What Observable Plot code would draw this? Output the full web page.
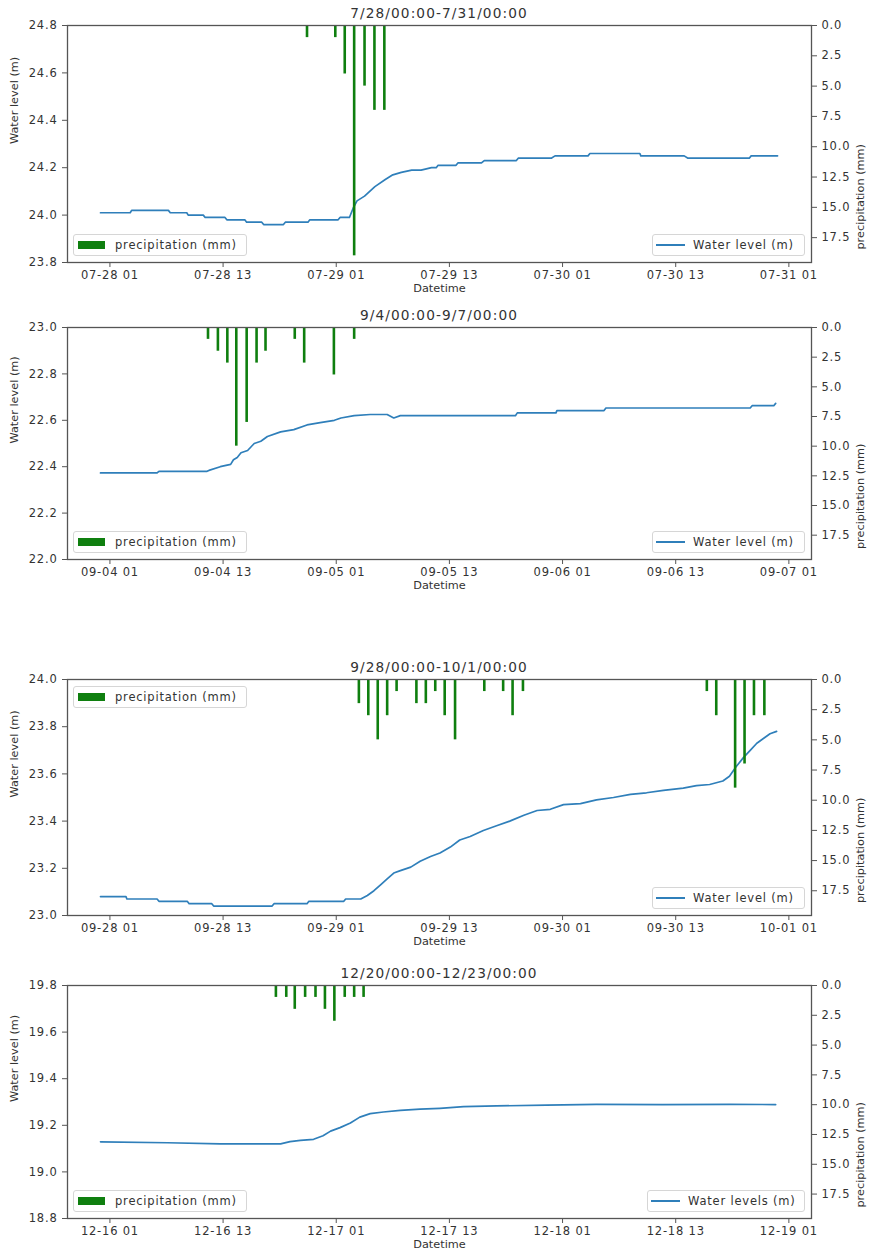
<!DOCTYPE html>
<html><head><meta charset="utf-8">
<script src="https://cdn.jsdelivr.net/npm/d3@7"></script>
<script src="https://cdn.jsdelivr.net/npm/@observablehq/plot@0.6"></script>
<style>
body{margin:0;background:#fff;font-family:"DejaVu Sans",sans-serif;}
#root{position:relative;width:871px;height:1258px;overflow:hidden;background:#fff;}
.panel{position:absolute;left:0;}
.panel svg{overflow:visible;}
g[aria-label$="tick label"] text{letter-spacing:0.8px;}
.title{position:absolute;left:0;width:878px;text-align:center;font-size:13.7px;letter-spacing:1.1px;color:#333;line-height:16px;}
.legend{position:absolute;background:#fff;border:1px solid #d6d6d6;border-radius:3px;box-sizing:border-box;height:22px;font-size:11.5px;letter-spacing:0.8px;color:#333;display:flex;align-items:center;white-space:nowrap;}
.patch{display:inline-block;width:27px;height:8px;background:#0f7f0f;margin-left:4px;margin-right:10px;}
.wline{display:inline-block;width:29px;height:2px;background:#2f7fba;margin-left:3px;margin-right:8px;}
</style>
</head><body><div id="root"></div>
<script>
const YEAR = 2019;
const rainTicks = [0, 2.5, 5, 7.5, 10, 12.5, 15, 17.5];
const RAIN_MAX = 19.55;

// ---------- Panel 1 ----------
const p1Title = "7/28/00:00-7/31/00:00";
const p1Start = "07-28 00";
const p1Ticks = ["07-28 01","07-28 13","07-29 01","07-29 13","07-30 01","07-30 13","07-31 01"];
const p1LevelTicks = [23.8, 24.0, 24.2, 24.4, 24.6, 24.8];
const p1LevelHours = [0,3.15,3.3,7.2,7.4,9.15,9.3,10.9,11.1,13.2,13.4,15.3,15.5,17.1,17.3,19.4,19.6,22.0,22.2,25.2,25.4,26.4,26.8,27.2,28.0,29.1,30.2,31.0,31.9,33.0,34.0,35.1,35.6,35.8,37.7,37.9,40.4,40.7,44.1,44.3,47.8,48.2,51.7,51.9,57.2,57.3,59.4,59.8,61.9,62.3,68.8,69.0,71.8];
const p1Level = [24.01,24.01,24.02,24.02,24.01,24.01,24.00,24.00,23.99,23.99,23.98,23.98,23.97,23.97,23.96,23.96,23.97,23.97,23.98,23.98,23.99,23.99,24.03,24.06,24.08,24.12,24.15,24.17,24.18,24.19,24.19,24.20,24.20,24.21,24.21,24.22,24.22,24.23,24.23,24.24,24.24,24.25,24.25,24.26,24.26,24.25,24.25,24.25,24.25,24.24,24.24,24.25,24.25];
const p1RainHours = [21.9, 24.9, 25.9, 26.9, 28.0, 29.05, 30.1];
const p1Rain = [1.0, 1.0, 4.0, 19.0, 5.0, 7.0, 7.0];
const p1LevelLegend = "Water level (m)";

// ---------- Panel 2 ----------
const p2Title = "9/4/00:00-9/7/00:00";
const p2Start = "09-04 00";
const p2Ticks = ["09-04 01","09-04 13","09-05 01","09-05 13","09-06 01","09-06 13","09-07 01"];
const p2LevelTicks = [22.0, 22.2, 22.4, 22.6, 22.8, 23.0];
const p2LevelHours = [0,6.0,6.2,11.3,11.5,12.7,13.8,14.1,14.5,14.9,15.6,16.3,17.0,17.7,19.1,20.5,21.9,23.3,24.8,25.5,26.9,28.6,30.4,31.1,31.8,44.0,44.2,48.3,48.4,53.4,53.6,68.9,69.1,71.4,71.6];
const p2Level = [22.373,22.373,22.38,22.38,22.384,22.40,22.41,22.43,22.44,22.46,22.47,22.50,22.51,22.53,22.55,22.56,22.58,22.59,22.60,22.61,22.62,22.625,22.625,22.61,22.62,22.62,22.632,22.632,22.642,22.642,22.653,22.653,22.663,22.663,22.673];
const p2RainHours = [11.4, 12.45, 13.45, 14.4, 15.5, 16.55, 17.5, 20.6, 21.6, 24.75, 26.9];
const p2Rain = [1.0, 2.0, 3.0, 10.0, 8.0, 3.0, 2.0, 1.0, 3.0, 4.0, 1.0];
const p2LevelLegend = "Water level (m)";

// ---------- Panel 3 ----------
const p3Title = "9/28/00:00-10/1/00:00";
const p3Start = "09-28 00";
const p3Ticks = ["09-28 01","09-28 13","09-29 01","09-29 13","09-30 01","09-30 13","10-01 01"];
const p3LevelTicks = [23.0, 23.2, 23.4, 23.6, 23.8, 24.0];
const p3LevelHours = [0,2.7,2.8,6.0,6.2,9.2,9.4,11.8,12.0,18.2,18.4,21.9,22.1,25.8,26.0,27.6,28.3,29.0,29.7,30.4,31.1,31.8,32.9,33.9,35.0,36.0,37.1,38.1,39.2,40.6,42.0,43.4,44.9,46.3,47.7,49.1,50.9,52.6,54.4,56.2,57.9,59.7,61.8,63.2,64.6,66.0,66.7,67.4,68.2,68.9,69.6,70.3,71.0,71.7];
const p3Level = [23.08,23.08,23.07,23.07,23.06,23.06,23.05,23.05,23.04,23.04,23.05,23.05,23.06,23.06,23.07,23.07,23.085,23.105,23.13,23.155,23.18,23.19,23.205,23.23,23.25,23.265,23.29,23.32,23.335,23.36,23.38,23.40,23.425,23.445,23.45,23.47,23.474,23.49,23.50,23.513,23.52,23.53,23.54,23.55,23.555,23.57,23.59,23.63,23.67,23.70,23.73,23.75,23.77,23.78];
const p3RainHours = [27.4,28.4,29.4,30.4,31.4,33.5,34.5,35.5,36.5,37.6,40.7,42.7,43.7,44.8,64.3,65.3,67.3,68.3,69.3,70.4];
const p3Rain = [2.0,3.0,5.0,3.0,1.0,2.0,2.0,1.0,3.0,5.0,1.0,1.0,3.0,1.0,1.0,3.0,9.0,7.0,3.0,3.0];
const p3LevelLegend = "Water level (m)";

// ---------- Panel 4 ----------
const p4Title = "12/20/00:00-12/23/00:00";
const p4Start = "12-16 00";
const p4Ticks = ["12-16 01","12-16 13","12-17 01","12-17 13","12-18 01","12-18 13","12-19 01"];
const p4LevelTicks = [18.8, 19.0, 19.2, 19.4, 19.6, 19.8];
const p4LevelHours = [0,7.1,12.7,19.1,20.1,21.2,22.6,23.6,24.4,25.4,26.5,27.5,28.6,30.0,31.8,33.9,36.0,38.5,42.0,47.3,52.6,59.6,66.7,71.6];
const p4Level = [19.129,19.125,19.12,19.12,19.13,19.135,19.14,19.155,19.175,19.19,19.21,19.235,19.25,19.257,19.264,19.269,19.273,19.28,19.283,19.287,19.29,19.289,19.29,19.289];
const p4RainHours = [18.6,19.7,20.6,21.7,22.8,23.8,24.8,25.9,26.9,27.9];
const p4Rain = [1,1,2,1,1,2,3,1,1,1];
const p4LevelLegend = "Water levels (m)";

// ---------- layout (positions only) ----------
const layout = [
  {svgTop: 0,   frameH: 237, mb: 40, precipLegendTop: false},
  {svgTop: 302, frameH: 232, mb: 40, precipLegendTop: false},
  {svgTop: 654, frameH: 236, mb: 40, precipLegendTop: true},
  {svgTop: 960, frameH: 233, mb: 38, precipLegendTop: false}
];
const MT = 25, ML = 67, MR = 60, W = 871;

const parseT = d3.utcParse("%Y-%m-%d %H");
const toDate = (label) => parseT(YEAR + "-" + label);

const panels = [
  {title: p1Title, start: p1Start, ticks: p1Ticks, yTicks: p1LevelTicks, lh: p1LevelHours, lv: p1Level, rh: p1RainHours, rv: p1Rain, leg: p1LevelLegend},
  {title: p2Title, start: p2Start, ticks: p2Ticks, yTicks: p2LevelTicks, lh: p2LevelHours, lv: p2Level, rh: p2RainHours, rv: p2Rain, leg: p2LevelLegend},
  {title: p3Title, start: p3Start, ticks: p3Ticks, yTicks: p3LevelTicks, lh: p3LevelHours, lv: p3Level, rh: p3RainHours, rv: p3Rain, leg: p3LevelLegend},
  {title: p4Title, start: p4Start, ticks: p4Ticks, yTicks: p4LevelTicks, lh: p4LevelHours, lv: p4Level, rh: p4RainHours, rv: p4Rain, leg: p4LevelLegend}
];

const root = document.getElementById("root");
const H = 3600e3;

panels.forEach((p, i) => {
  const L = layout[i];
  const t0 = toDate(p.start).getTime();
  const at = (h) => new Date(t0 + h * H);
  const yMin = p.yTicks[0], yMax = p.yTicks[p.yTicks.length - 1];
  const toLevel = (r) => yMax - r * (yMax - yMin) / RAIN_MAX;
  const fromLevel = (v) => (yMax - v) * RAIN_MAX / (yMax - yMin);
  const level = p.lh.map((h, k) => ({date: at(h), v: p.lv[k]}));
  const rain = p.rh.map((h, k) => ({date: at(h), r: p.rv[k]}));
  const height = MT + L.frameH + L.mb;

  const chart = Plot.plot({
    width: W, height,
    marginLeft: ML, marginRight: MR, marginTop: MT, marginBottom: L.mb,
    style: {fontFamily: "DejaVu Sans", fontSize: "11.5px", color: "#333", background: "transparent"},
    x: {type: "utc", domain: [at(-3.5), at(75.4)]},
    y: {domain: [yMin, yMax]},
    marks: [
      Plot.line(level, {x: "date", y: "v", stroke: "#2f7fba", strokeWidth: 1.7}),
      Plot.ruleX(rain, {x: "date", y1: () => yMax, y2: (d) => toLevel(d.r), stroke: "#0f7f0f", strokeWidth: 2.6}),
      Plot.frame({stroke: "#555", strokeWidth: 1.3}),
      Plot.axisX({ticks: p.ticks.map(toDate), tickFormat: d3.utcFormat("%m-%d %H"), tickSize: 5, tickPadding: 3, label: null, stroke: "#555"}),
      Plot.axisY({anchor: "left", ticks: p.yTicks, tickFormat: (d) => d.toFixed(1), tickSize: 5, tickPadding: 5, label: null, stroke: "#555"}),
      Plot.axisY({anchor: "right", ticks: rainTicks.map(toLevel), tickFormat: (d) => fromLevel(d).toFixed(1), tickSize: 5, tickPadding: 5, label: null, stroke: "#555"}),
      Plot.text(["Datetime"], {frameAnchor: "bottom", dy: 29, fontSize: 11.3, fill: "#333"}),
      Plot.text(["Water level (m)"], {frameAnchor: "left", dx: -53, rotate: -90, fontSize: 11.3, fill: "#333"}),
      Plot.text(["precipitation (mm)"], {frameAnchor: "right", dx: 49, rotate: -90, fontSize: 11.3, fill: "#333"})
    ]
  });
  const wrap = document.createElement("div");
  wrap.className = "panel";
  wrap.style.top = L.svgTop + "px";
  wrap.appendChild(chart);
  root.appendChild(wrap);

  const frameTop = L.svgTop + MT;
  const frameBottom = frameTop + L.frameH;

  const title = document.createElement("div");
  title.className = "title";
  title.style.top = (frameTop - 12 - 8) + "px";
  title.textContent = p.title;
  root.appendChild(title);

  const pl = document.createElement("div");
  pl.className = "legend";
  pl.style.left = "73px";
  pl.style.width = "174px";
  pl.style.top = (L.precipLegendTop ? frameTop + 7 : frameBottom - 28) + "px";
  pl.innerHTML = '<span class="patch"></span>precipitation (mm)';
  root.appendChild(pl);

  const wl = document.createElement("div");
  wl.className = "legend";
  const ww = p.leg.length > 15 ? 158 : 153;
  wl.style.left = (W - MR - 6 - ww) + "px";
  wl.style.width = ww + "px";
  wl.style.top = (frameBottom - 28) + "px";
  wl.innerHTML = '<span class="wline"></span>' + p.leg;
  root.appendChild(wl);
});
</script>
</body></html>
